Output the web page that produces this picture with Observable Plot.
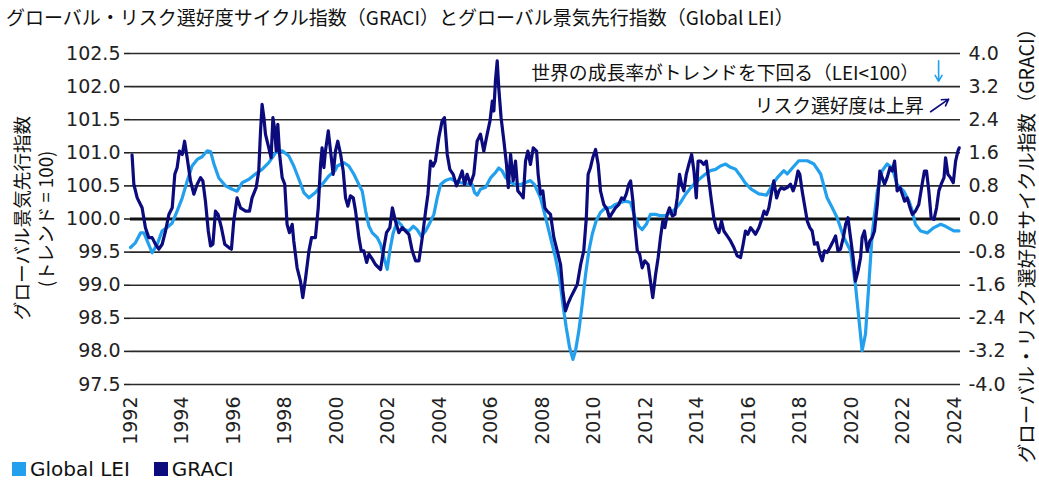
<!DOCTYPE html>
<html><head><meta charset="utf-8">
<script src="https://cdn.jsdelivr.net/npm/d3@7"></script>
<script src="https://cdn.jsdelivr.net/npm/@observablehq/plot@0.6"></script>
<style>
html,body{margin:0;padding:0;background:#fff;}
#wrap{position:relative;width:1039px;height:480px;overflow:hidden;font-family:"Noto Sans CJK JP","Noto Sans",sans-serif;color:#111;}
#title{position:absolute;left:6px;top:6px;font-size:19px;line-height:1.2;white-space:nowrap;}
#chart{position:absolute;left:0;top:0;}
.rot{position:absolute;white-space:nowrap;line-height:1;transform:translate(-50%,-50%) rotate(-90deg);}
#legend{position:absolute;left:12px;top:457px;font-family:"DejaVu Sans",sans-serif;font-size:20px;display:flex;align-items:center;}
.sw{display:inline-block;width:14px;height:14px;margin-right:4px;}
</style></head>
<body><div id="wrap">
<div id="chart"></div>
<div id="title">グローバル・リスク選好度サイクル指数（GRACI）とグローバル景気先行指数（Global LEI）</div>
<div class="rot" style="left:21px;top:218px;font-size:18.6px;">グローバル景気先行指数</div>
<div class="rot" style="left:45px;top:219px;font-size:18.6px;">(トレンド&nbsp;=&nbsp;100)</div>
<div class="rot" style="left:1026px;top:241px;font-size:19.5px;">グローバル・リスク選好度サイクル指数（GRACI）</div>
<div id="legend"><span class="sw" style="background:#22a0ee"></span><span>Global LEI</span><span class="sw" style="background:#0b0b7d;margin-left:24px"></span><span>GRACI</span></div>
</div>
<script>
// ---- data ----
const leiYear = [1992.00,1992.19,1992.39,1992.52,1992.65,1992.84,1993.04,1993.23,1993.42,1993.62,1993.81,1994.01,1994.20,1994.39,1994.59,1994.78,1994.98,1995.11,1995.24,1995.43,1995.69,1995.95,1996.14,1996.34,1996.60,1996.85,1997.11,1997.37,1997.63,1997.89,1998.15,1998.34,1998.54,1998.73,1998.93,1999.18,1999.44,1999.70,
1999.94,2000.03,2000.29,2000.48,2000.67,2000.87,2001.00,2001.13,2001.26,2001.39,2001.58,2001.71,2001.84,2001.97,2002.07,2002.20,2002.36,2002.49,2002.64,2002.81,2002.98,2003.13,2003.29,2003.46,2003.62,2003.78,2003.91,2004.04,2004.23,2004.43,2004.62,2004.82,2005.07,2005.27,2005.36,2005.46,2005.59,2005.79,2005.98,2006.17,2006.30,2006.43,2006.56,2006.76,2006.95,2007.15,2007.34,2007.53,2007.69,
2007.92,2008.12,2008.31,2008.50,2008.66,2008.79,2008.92,2009.05,2009.18,2009.28,2009.41,2009.54,2009.67,2009.80,2009.93,2010.08,2010.25,2010.45,2010.64,2010.83,2011.03,2011.22,2011.42,2011.59,2011.74,2011.87,2012.03,2012.19,2012.39,2012.58,2012.78,2012.97,2013.16,2013.36,2013.55,2013.75,2013.94,2014.14,2014.33,2014.52,2014.72,2014.91,2015.11,2015.30,2015.50,2015.69,2015.86,
2016.10,2016.40,2016.70,2016.98,2017.11,2017.37,2017.50,2017.70,2017.95,2018.28,2018.54,2018.80,2019.05,2019.25,2019.44,2019.70,2019.96,2020.15,2020.28,2020.41,2020.54,2020.67,2020.80,2021.00,2021.19,2021.38,2021.58,2021.77,2022.03,2022.23,2022.36,2022.48,2022.68,2022.94,2023.20,2023.46,2023.65,2023.97,2024.17];
const leiValue = [99.57,99.64,99.79,99.79,99.67,99.49,99.62,99.82,99.87,99.94,100.12,100.32,100.57,100.80,100.90,100.94,101.03,101.02,100.83,100.62,100.50,100.45,100.42,100.55,100.60,100.68,100.75,100.85,101.00,101.03,100.95,100.80,100.60,100.40,100.32,100.40,100.52,100.65,
100.73,100.80,100.85,100.80,100.68,100.52,100.42,100.12,99.89,99.79,99.72,99.62,99.42,99.24,99.52,99.79,99.97,99.92,99.84,99.82,99.89,99.84,99.74,99.82,99.94,100.07,100.32,100.52,100.58,100.61,100.57,100.55,100.53,100.52,100.40,100.36,100.45,100.48,100.62,100.70,100.77,100.73,100.63,100.55,100.52,100.52,100.55,100.58,100.52,
100.32,100.02,99.72,99.42,99.11,98.71,98.36,98.06,97.88,98.01,98.31,98.71,99.16,99.52,99.77,99.97,100.10,100.17,100.17,100.22,100.25,100.27,100.25,100.02,99.89,99.84,99.92,100.07,100.07,100.05,100.05,100.10,100.15,100.25,100.37,100.47,100.55,100.62,100.68,100.73,100.75,100.80,100.83,100.78,100.75,100.65,100.55,
100.45,100.38,100.36,100.55,100.62,100.73,100.68,100.77,100.88,100.88,100.83,100.68,100.32,100.17,100.02,99.72,99.52,99.01,98.51,98.01,98.26,99.01,99.77,100.42,100.73,100.83,100.77,100.52,100.42,100.27,100.12,99.92,99.82,99.79,99.87,99.92,99.89,99.82,99.82];

const graciYear = [1992.06,1992.13,1992.26,1992.45,1992.58,1992.71,1992.84,1992.97,1993.10,1993.23,1993.36,1993.49,1993.62,1993.72,1993.81,1993.90,1994.01,1994.10,1994.20,1994.33,1994.46,1994.59,1994.72,1994.81,1994.91,1995.02,1995.11,1995.20,1995.30,1995.40,1995.53,1995.66,1995.82,1995.92,1996.01,1996.14,1996.27,1996.47,1996.62,1996.72,1996.88,1996.98,1997.05,1997.11,1997.18,1997.24,1997.37,1997.46,1997.53,1997.59,1997.66,1997.72,1997.79,1997.89,1997.99,1998.08,1998.17,1998.28,1998.34,1998.47,1998.60,1998.69,1998.80,1998.93,1999.03,1999.18,1999.29,1999.38,1999.44,1999.51,1999.57,1999.68,
1999.87,1999.96,2000.05,2000.16,2000.26,2000.35,2000.44,2000.54,2000.65,2000.74,2000.87,2000.96,2001.06,2001.17,2001.26,2001.39,2001.51,2001.71,2001.84,2001.94,2002.07,2002.17,2002.29,2002.42,2002.55,2002.68,2002.81,2002.94,2003.07,2003.20,2003.33,2003.46,2003.55,2003.65,2003.75,2003.84,2003.97,2004.10,2004.19,2004.30,2004.40,2004.53,2004.66,2004.79,2004.88,2004.97,2005.07,2005.20,2005.33,2005.46,2005.59,2005.72,2005.85,2005.96,2006.05,2006.11,2006.17,2006.24,2006.30,2006.39,2006.50,2006.60,2006.67,2006.76,2006.86,2006.95,2007.04,2007.15,2007.25,2007.34,2007.43,2007.53,2007.64,2007.77,
2007.83,2007.92,2008.01,2008.09,2008.18,2008.31,2008.44,2008.57,2008.70,2008.79,2008.89,2008.98,2009.09,2009.22,2009.35,2009.48,2009.60,2009.70,2009.77,2009.86,2009.95,2010.06,2010.16,2010.25,2010.38,2010.51,2010.60,2010.71,2010.83,2010.96,2011.07,2011.16,2011.25,2011.35,2011.42,2011.51,2011.59,2011.68,2011.77,2011.87,2011.97,2012.10,2012.19,2012.28,2012.39,2012.49,2012.58,2012.67,2012.75,2012.84,2012.93,2013.04,2013.14,2013.23,2013.32,2013.40,2013.49,2013.58,2013.68,2013.79,2013.88,2013.97,2014.04,2014.14,2014.26,2014.36,2014.46,2014.56,2014.65,2014.74,2014.85,2014.95,2015.04,2015.17,2015.30,2015.43,2015.56,
2015.69,2015.79,2015.88,2015.97,2016.08,2016.18,2016.27,2016.40,2016.49,2016.60,2016.70,2016.79,2016.88,2016.98,2017.09,2017.18,2017.27,2017.37,2017.50,2017.63,2017.73,2017.82,2017.92,2017.99,2018.08,2018.17,2018.28,2018.38,2018.47,2018.56,2018.67,2018.77,2018.86,2018.95,2019.05,2019.16,2019.29,2019.38,2019.47,2019.57,2019.68,2019.77,2019.86,2019.96,2020.06,2020.15,2020.25,2020.35,2020.41,2020.50,2020.61,2020.71,2020.80,2020.89,2021.00,2021.10,2021.19,2021.28,2021.38,2021.49,2021.58,2021.67,2021.77,2021.88,2021.97,2022.06,2022.16,2022.27,2022.36,2022.48,2022.61,2022.74,2022.83,2022.91,2023.00,2023.09,2023.20,2023.30,2023.39,2023.48,2023.59,2023.65,2023.74,2023.84,2023.95,2024.04,2024.13,2024.18];
const graciValue = [1.55,0.84,0.51,0.27,-0.21,-0.45,-0.45,-0.61,-0.73,-0.61,-0.29,0.11,0.27,1.08,1.24,1.64,1.56,1.88,1.48,0.92,0.60,0.84,1.00,0.92,0.43,-0.29,-0.65,-0.61,0.19,0.11,-0.21,-0.61,-0.69,-0.73,-0.05,0.51,0.27,0.19,0.19,0.51,0.76,1.16,2.13,2.77,2.45,2.05,1.72,1.48,2.45,2.21,1.64,2.29,1.56,1.00,0.84,-0.13,-0.33,-0.13,-0.53,-1.18,-1.50,-1.90,-1.42,-0.77,-0.45,-0.45,0.27,1.32,1.72,1.24,1.64,2.13,
1.08,1.64,1.88,1.56,1.16,0.51,0.31,0.56,0.51,0.19,-0.45,-0.77,-0.77,-1.05,-0.85,-0.97,-1.10,-1.22,-0.69,-0.33,-0.21,0.27,-0.05,-0.33,-0.21,-0.29,-0.37,-0.77,-1.01,-1.01,-0.45,0.19,0.60,1.40,1.28,1.40,1.96,2.37,2.45,1.56,1.20,1.08,0.80,1.00,1.16,0.84,1.08,0.84,1.08,1.88,2.05,1.64,2.05,2.37,2.85,2.61,3.33,3.82,3.17,2.45,1.88,1.32,0.76,1.56,0.92,1.40,0.68,0.60,0.51,1.40,1.64,1.32,1.72,1.64,
1.08,0.60,0.68,0.27,0.19,0.11,-0.45,-0.77,-1.10,-1.74,-2.22,-2.06,-1.90,-1.74,-1.58,-1.10,-0.77,0.03,1.08,1.24,1.48,1.68,1.32,0.68,0.35,0.23,0.03,0.15,0.27,0.35,0.51,0.47,0.60,0.84,0.92,0.43,-0.21,-0.77,-0.85,-1.18,-1.01,-1.10,-1.50,-1.90,-1.34,-0.93,-0.45,-0.05,-0.21,0.11,0.27,0.07,0.11,0.51,1.08,0.84,0.68,1.08,1.32,1.56,1.16,0.51,1.40,1.40,1.32,1.40,0.92,0.43,0.03,-0.21,-0.33,-0.05,-0.29,-0.41,-0.53,-0.69,-0.89,
-0.93,-0.61,-0.29,-0.37,-0.21,-0.29,-0.37,-0.21,-0.05,0.19,0.11,0.27,0.60,0.92,0.51,0.68,0.76,0.72,0.76,0.84,0.68,0.84,1.16,1.08,0.68,0.35,-0.05,-0.21,-0.29,-0.61,-0.57,-0.85,-1.01,-0.77,-0.81,-0.69,-0.53,-0.41,-0.77,-0.73,-0.45,-0.13,0.03,-0.45,-0.93,-1.50,-1.26,-0.93,-0.45,-0.29,-0.77,-0.53,-0.45,-0.29,0.35,1.16,1.00,0.84,1.00,1.24,1.16,1.40,0.68,0.76,0.60,0.43,0.51,0.27,0.11,0.19,0.35,0.84,1.16,1.16,0.68,0.03,-0.01,0.27,0.68,0.84,1.00,1.48,1.08,1.00,0.88,1.40,1.64,1.72];

const xTicks = [1992,1994,1996,1998,2000,2002,2004,2006,2008,2010,2012,2014,2016,2018,2020,2022,2024];
const leiTicks = [97.5,98.0,98.5,99.0,99.5,100.0,100.5,101.0,101.5,102.0,102.5];
const graciTicks = [-4.0,-3.2,-2.4,-1.6,-0.8,0.0,0.8,1.6,2.4,3.2,4.0];
const noteText = ["世界の成長率がトレンドを下回る（LEI<100）","リスク選好度は上昇"];
const noteX = [2022.62, 2022.80];
const noteY = [102.19, 101.69];

// ---- build tables ----
const ratio = 1.6; // GRACI units per LEI unit (4.0 ↔ 102.5)
const toLei = g => 100 + g / ratio;
const lei = leiYear.map((x, i) => ({x, v: leiValue[i]}));
const graci = graciYear.map((x, i) => ({x, v: toLei(graciValue[i])}));
const notes = noteText.map((t, i) => ({t, x: noteX[i], y: noteY[i]}));
const rightPos = graciTicks.map(toLei);
const rightLab = new Map(rightPos.map((p, i) => [p.toFixed(3), graciTicks[i].toFixed(1)]));

const LIGHT = "#22a0ee", NAVY = "#0b0b7d";

const chart = Plot.plot({
  width: 1039, height: 450,
  marginTop: 53, marginBottom: 66, marginLeft: 130, marginRight: 79,
  style: {fontFamily: "DejaVu Sans, sans-serif", fontSize: "19px", color: "#222", background: "transparent"},
  x: {domain: [1992, 2024.23]},
  y: {domain: [97.5, 102.5]},
  marks: [
    Plot.ruleY(leiTicks.filter(d => d !== 100), {stroke: "#2a2a2a", strokeWidth: 1.6}),
    Plot.ruleY([100], {stroke: "#111", strokeWidth: 3}),
    Plot.axisY(leiTicks, {anchor: "left", tickSize: 6, tickPadding: 4, tickFormat: d => d.toFixed(1), label: null, fontSize: 19, stroke: "#222", strokeWidth: 1.6}),
    Plot.axisY(rightPos, {anchor: "right", tickSize: 0, tickPadding: 8, tickFormat: d => rightLab.get(d.toFixed(3)), label: null, fontSize: 19}),
    Plot.axisX(xTicks, {anchor: "bottom", tickSize: 0, tickPadding: 12, tickRotate: -90, tickFormat: d => String(d), label: null, fontSize: 19}),
    Plot.line(lei, {x: "x", y: "v", stroke: LIGHT, strokeWidth: 3.2, curve: "linear"}),
    Plot.line(graci, {x: "x", y: "v", stroke: NAVY, strokeWidth: 3.2, curve: "linear"}),
    Plot.text(notes, {x: "x", y: "y", text: "t", textAnchor: "end", fontSize: 18.8, fontFamily: "Noto Sans CJK JP", fill: "#111"}),
    Plot.arrow([{x1: 2023.38, y1: 102.39, x2: 2023.38, y2: 102.08}], {x1: "x1", y1: "y1", x2: "x2", y2: "y2", stroke: LIGHT, strokeWidth: 1.6, headLength: 7}),
    Plot.arrow([{x1: 2023.07, y1: 101.62, x2: 2023.77, y2: 101.81}], {x1: "x1", y1: "y1", x2: "x2", y2: "y2", stroke: NAVY, strokeWidth: 1.6, headLength: 7})
  ]
});
document.getElementById("chart").appendChild(chart);
</script>
</body></html>
